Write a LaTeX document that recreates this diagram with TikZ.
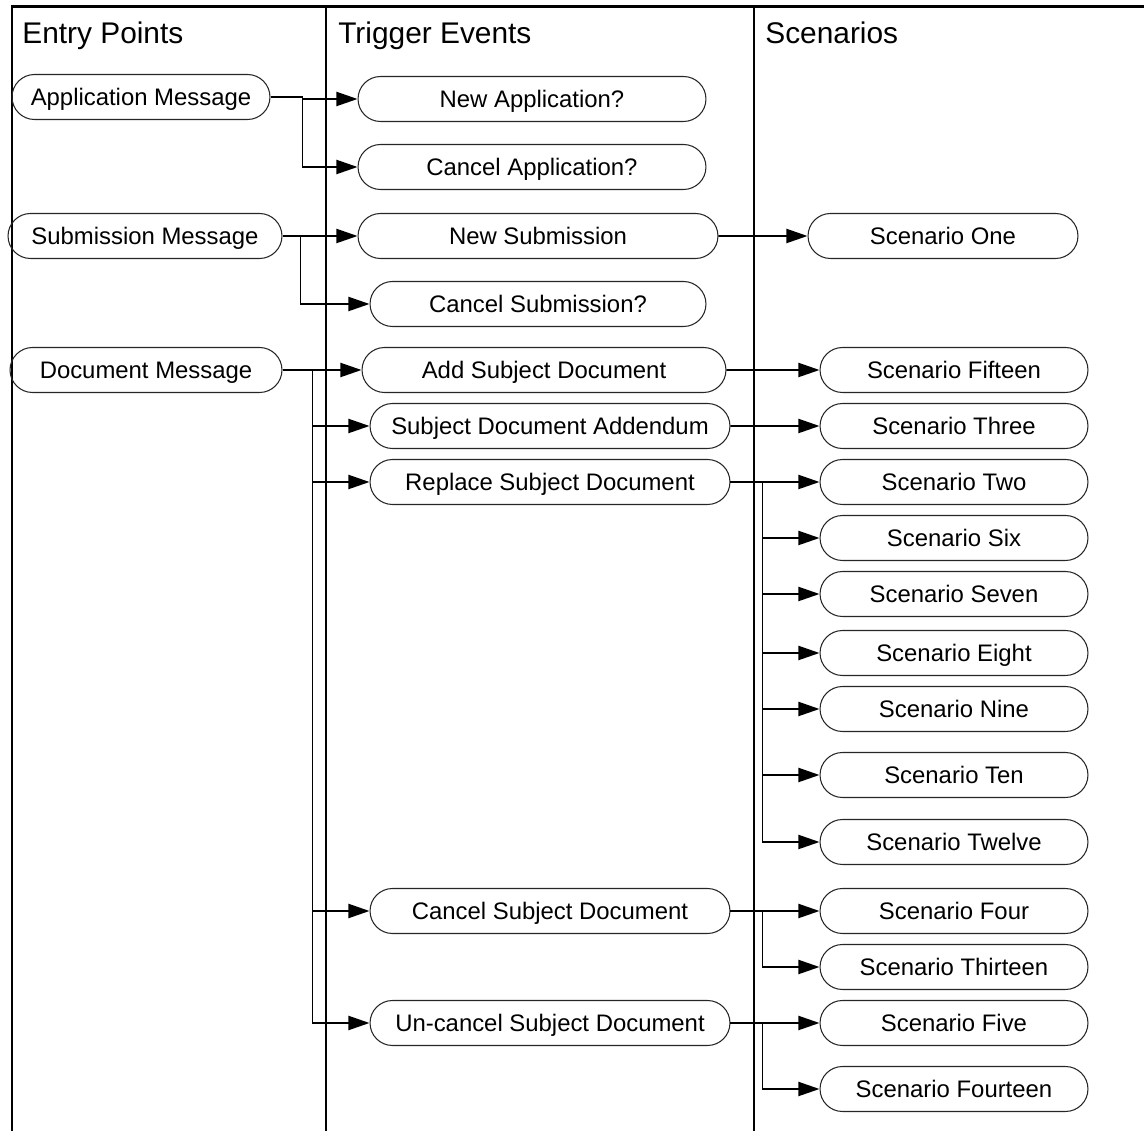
\documentclass[tikz,border=0pt]{standalone}
\usepackage{fontspec}
\setmainfont{Liberation Sans}
\usepackage{tikz}
\usetikzlibrary{arrows.meta,shapes.misc}
\newcommand\lanefont{\fontsize{17}{20}\selectfont}
\newcommand\termfont{\fontsize{13.6}{16}\selectfont}

\begin{document}
\begin{tikzpicture}[x=0.02cm,y=-0.02cm,>={Triangle[length=12pt,width=8pt]}]
    \tikzstyle{term}=[draw=black!85, line width=0.6pt, rounded rectangle, minimum height=0.9cm, inner sep=0pt, text height=9.7pt, text depth=0pt, font=\termfont, text=black]
    \tikzstyle{lane}=[line width=1.7pt, black]
    \tikzstyle{title}=[anchor=base west, inner sep=0pt, font=\lanefont]
    \tikzstyle{link}=[->, line width=1.1pt, black]

    \useasboundingbox (0,0) rectangle (1144,1131);

    % swimlanes
    \draw[lane] (12,1131) -- (12,7) -- (1144,7);
    \draw[lane] (326,7) -- (326,1131);
    \draw[lane] (754,7) -- (754,1131);
    \node[title] (entry) at (22,44)  {Entry Points};
    \node[title] (trig)  at (338,44) {Trigger Events};
    \node[title] (scen)  at (765,44) {Scenarios};

    % entry points
    \node[term, minimum width=5.16cm] (appmsg) at (141,97)  {Application Message};
    \node[term, minimum width=5.48cm] (submsg) at (145,236) {Submission Message};
    \node[term, minimum width=5.44cm] (docmsg) at (146,370) {Document Message};

    % trigger events
    \node[term, minimum width=6.96cm] (newapp)   at (532,99)   {New Application?};
    \node[term, minimum width=6.96cm] (cnclapp)  at (532,167)  {Cancel Application?};
    \node[term, minimum width=7.2cm]  (newsub)   at (538,236)  {New Submission};
    \node[term, minimum width=6.72cm] (cnclsub)  at (538,304)  {Cancel Submission?};
    \node[term, minimum width=7.28cm] (adddoc)   at (544,370)  {Add Subject Document};
    \node[term, minimum width=7.2cm]  (adddm)    at (550,426)  {Subject Document Addendum};
    \node[term, minimum width=7.2cm]  (repdoc)   at (550,482)  {Replace Subject Document};
    \node[term, minimum width=7.2cm]  (cncldoc)  at (550,911)  {Cancel Subject Document};
    \node[term, minimum width=7.2cm]  (uncldoc)  at (550,1023) {Un-cancel Subject Document};

    % scenarios
    \node[term, minimum width=5.4cm]  (sone)   at (943,236)  {Scenario One};
    \node[term, minimum width=5.36cm] (sfift)  at (954,370)  {Scenario Fifteen};
    \node[term, minimum width=5.36cm] (sthree) at (954,426)  {Scenario Three};
    \node[term, minimum width=5.36cm] (stwo)   at (954,482)  {Scenario Two};
    \node[term, minimum width=5.36cm] (ssix)   at (954,538)  {Scenario Six};
    \node[term, minimum width=5.36cm] (sseven) at (954,594)  {Scenario Seven};
    \node[term, minimum width=5.36cm] (seight) at (954,653)  {Scenario Eight};
    \node[term, minimum width=5.36cm] (snine)  at (954,709)  {Scenario Nine};
    \node[term, minimum width=5.36cm] (sten)   at (954,775)  {Scenario Ten};
    \node[term, minimum width=5.36cm] (stwlv)  at (954,842)  {Scenario Twelve};
    \node[term, minimum width=5.36cm] (sfour)  at (954,911)  {Scenario Four};
    \node[term, minimum width=5.36cm] (sthirt) at (954,967)  {Scenario Thirteen};
    \node[term, minimum width=5.36cm] (sfive)  at (954,1023) {Scenario Five};
    \node[term, minimum width=5.36cm] (sfourt) at (954,1089) {Scenario Fourteen};

    % entry points -> trigger events
    \draw[link] (appmsg.east) -- ++(32,0) |- (newapp.west);
    \draw[link] (appmsg.east) -- ++(32,0) |- (cnclapp.west);
    \draw[link] (submsg.east) -- (newsub.west);
    \draw[link] (submsg.east) -- ++(18,0) |- (cnclsub.west);
    \draw[link] (docmsg.east) -- (adddoc.west);
    \foreach \t in {adddm,repdoc,cncldoc,uncldoc}
      \draw[link] (docmsg.east) -- ++(30,0) |- (\t.west);

    % trigger events -> scenarios
    \path
     (newsub) edge[link] (sone)
     (adddoc) edge[link] (sfift)
     (adddm)  edge[link] (sthree)
     (repdoc) edge[link] (stwo)
     ;
    \foreach \s in {ssix,sseven,seight,snine,sten,stwlv}
      \draw[link] (repdoc.east) -- ++(32,0) |- (\s.west);
    \draw[link] (cncldoc.east) -- (sfour.west);
    \draw[link] (cncldoc.east) -- ++(32,0) |- (sthirt.west);
    \draw[link] (uncldoc.east) -- (sfive.west);
    \draw[link] (uncldoc.east) -- ++(32,0) |- (sfourt.west);
\end{tikzpicture}
\end{document}
